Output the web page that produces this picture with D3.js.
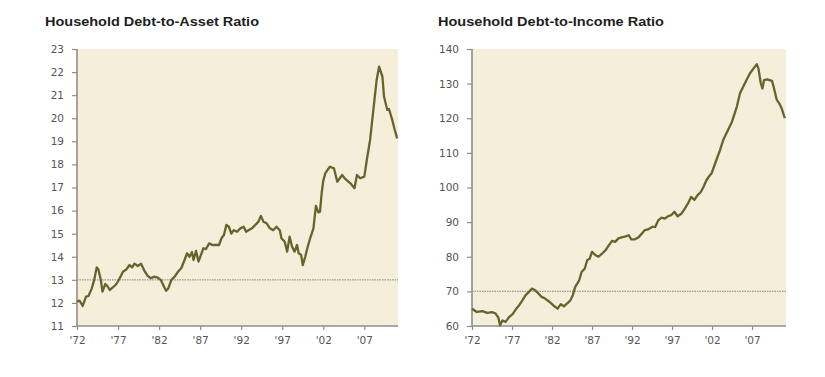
<!DOCTYPE html>
<html>
<head>
<meta charset="utf-8">
<script src="https://cdn.jsdelivr.net/npm/d3@7"></script>
<style>
  body { margin: 0; background: #fff; }
  svg { display: block; }
</style>
</head>
<body>
<div id="chart"></div>
<script>
const width = 825;
const height = 377;

// tick labels shared by both panels
const yearTicks = [1972, 1977, 1982, 1987, 1992, 1997, 2002, 2007];

// Household debt-to-asset ratio
const assetYears = [1972.0, 1972.3, 1972.7, 1973.1, 1973.4, 1973.8, 1974.1, 1974.4, 1974.6, 1974.9,
  1975.1, 1975.45, 1975.7, 1976.0, 1976.4, 1976.8, 1977.2, 1977.6, 1978.0, 1978.4,
  1978.7, 1979.0, 1979.4, 1979.8, 1980.2, 1980.6, 1981.0, 1981.4, 1981.8, 1982.2,
  1982.6, 1982.85, 1983.1, 1983.5, 1983.9, 1984.3, 1984.7, 1985.1, 1985.4, 1985.7,
  1986.0, 1986.2, 1986.5, 1986.8, 1987.1, 1987.4, 1987.7, 1988.1, 1988.5, 1988.9,
  1989.3, 1989.6, 1989.9, 1990.2, 1990.5, 1990.8, 1991.1, 1991.5, 1991.9, 1992.3,
  1992.6, 1992.9, 1993.3, 1993.7, 1994.1, 1994.4, 1994.7, 1995.1, 1995.5, 1995.9,
  1996.3, 1996.7, 1996.9, 1997.3, 1997.6, 1997.9, 1998.2, 1998.5, 1998.8, 1999.0,
  1999.3, 1999.5, 1999.8, 2000.1, 2000.4, 2000.8, 2001.1, 2001.4, 2001.6, 2001.8,
  2002.0, 2002.25, 2002.8, 2003.3, 2003.7, 2004.3, 2004.6, 2005.3, 2005.8, 2006.1,
  2006.5, 2007.0, 2007.3, 2007.7, 2008.1, 2008.5, 2008.8, 2009.2, 2009.4, 2009.8,
  2010.0, 2010.4, 2010.7, 2011.0];
const assetRatio = [12.05, 12.1, 11.87, 12.27, 12.3, 12.63, 13.0, 13.54, 13.45, 13.0,
  12.49, 12.82, 12.73, 12.56, 12.68, 12.82, 13.07, 13.35, 13.45, 13.64,
  13.54, 13.7, 13.6, 13.7, 13.4, 13.17, 13.07, 13.14, 13.1, 13.0,
  12.7, 12.53, 12.62, 13.0, 13.14, 13.35, 13.5, 13.86, 14.15, 14.0,
  14.2, 13.86, 14.25, 13.79, 14.08, 14.37, 14.33, 14.58, 14.51, 14.51,
  14.51, 14.8, 14.94, 15.38, 15.3, 15.0, 15.15, 15.08, 15.23, 15.3,
  15.08, 15.15, 15.23, 15.37, 15.52, 15.77, 15.52, 15.45, 15.23, 15.15,
  15.3, 15.15, 14.8, 14.65, 14.22, 14.87, 14.43, 14.22, 14.51, 14.15,
  14.08, 13.64, 14.0, 14.43, 14.8, 15.23, 16.2, 15.92, 15.95, 16.75,
  17.3, 17.62, 17.9, 17.83, 17.25, 17.54, 17.4, 17.18, 16.97, 17.54,
  17.4, 17.47, 18.19, 19.06, 20.36, 21.66, 22.24, 21.8, 20.93, 20.36,
  20.4, 19.93, 19.5, 19.13];

// Household debt-to-income ratio
const incomeYears = [1972.0, 1972.6, 1973.3, 1973.9, 1974.5, 1974.95, 1975.3, 1975.5, 1975.8, 1976.2,
  1976.6, 1977.1, 1977.5, 1977.9, 1978.3, 1978.7, 1979.1, 1979.5, 1979.9, 1980.3,
  1980.7, 1981.1, 1981.5, 1981.9, 1982.3, 1982.7, 1983.1, 1983.5, 1983.9, 1984.3,
  1984.6, 1984.9, 1985.4, 1985.7, 1986.1, 1986.4, 1986.7, 1987.0, 1987.4, 1987.8,
  1988.3, 1988.7, 1989.1, 1989.5, 1989.9, 1990.3, 1990.7, 1991.1, 1991.6, 1991.9,
  1992.3, 1992.8, 1993.2, 1993.6, 1994.0, 1994.5, 1994.9, 1995.3, 1995.7, 1996.1,
  1996.5, 1996.9, 1997.3, 1997.7, 1998.2, 1998.6, 1999.0, 1999.4, 1999.8, 2000.2,
  2000.6, 2000.95, 2001.3, 2001.6, 2001.95, 2002.4, 2003.0, 2003.4, 2004.0, 2004.5,
  2005.1, 2005.5, 2005.9, 2006.3, 2006.75, 2007.2, 2007.6, 2007.8, 2008.1, 2008.3,
  2008.5, 2008.9, 2009.5, 2009.7, 2010.1, 2010.4, 2010.7, 2011.1];
const incomeRatio = [65.0, 64.05, 64.3, 63.8, 64.0, 63.6, 62.4, 60.2, 61.6, 61.2,
  62.5, 63.5, 64.9, 66.0, 67.4, 68.9, 69.8, 70.8, 70.3, 69.4,
  68.4, 68.0, 67.3, 66.5, 65.7, 65.0, 66.3, 65.7, 66.5, 67.4,
  68.9, 71.3, 73.2, 75.6, 76.6, 79.0, 79.4, 81.4, 80.5, 80.0,
  81.0, 81.9, 83.3, 84.6, 84.3, 85.3, 85.6, 85.8, 86.2, 85.0,
  85.0, 85.6, 86.6, 87.7, 87.9, 88.6, 88.6, 90.6, 91.3, 91.0,
  91.7, 92.0, 93.0, 91.7, 92.5, 93.9, 95.4, 97.3, 96.4, 97.8,
  98.7, 100.2, 102.1, 103.1, 104.1, 107.0, 110.8, 113.7, 116.6, 119.0,
  123.3, 127.2, 129.1, 131.0, 133.0, 134.4, 135.6, 134.4, 130.1, 128.6,
  131.0, 131.2, 130.8, 129.1, 125.3, 124.3, 122.9, 120.0];

const svg = d3.select('#chart')
    .append('svg')
    .attr('width', width)
    .attr('height', height);

const panels = [
  {
    title: 'Household Debt-to-Asset Ratio',
    titleX: 45,
    titleWidth: 214,
    years: assetYears,
    values: assetRatio,
    x0: 77, x1: 398, y0: 49, y1: 326,
    xDomain: [1972, 2011.1],
    yDomain: [11, 23],
    yTicks: d3.range(11, 24, 1),
    refValue: 13
  },
  {
    title: 'Household Debt-to-Income Ratio',
    titleX: 438,
    titleWidth: 226,
    years: incomeYears,
    values: incomeRatio,
    x0: 472, x1: 786, y0: 49, y1: 326,
    xDomain: [1972, 2011.25],
    yDomain: [60, 140],
    yTicks: d3.range(60, 141, 10),
    refValue: 70
  }
];

panels.forEach(p => drawPanel(svg, p));

function drawPanel(svg, p) {
    const g = svg.append('g');

    const xScale = d3.scaleLinear()
        .domain(p.xDomain)
        .range([p.x0, p.x1]);

    const yScale = d3.scaleLinear()
        .domain(p.yDomain)
        .range([p.y1, p.y0]);

    // title
    g.append('text')
        .attr('x', p.titleX)
        .attr('y', 26)
        .attr('textLength', p.titleWidth)
        .attr('lengthAdjust', 'spacingAndGlyphs')
        .style('font-family', '"Liberation Sans", Arial, sans-serif')
        .style('font-weight', 'bold')
        .style('font-size', '13px')
        .style('fill', '#1e1e1e')
        .text(p.title);

    // plot background
    g.append('rect')
        .attr('x', p.x0)
        .attr('y', p.y0)
        .attr('width', p.x1 - p.x0)
        .attr('height', p.y1 - p.y0)
        .attr('fill', '#f4eedb');

    // reference line (dotted)
    g.append('line')
        .attr('x1', p.x0)
        .attr('x2', p.x1)
        .attr('y1', yScale(p.refValue))
        .attr('y2', yScale(p.refValue))
        .attr('stroke', '#9a9888')
        .attr('stroke-width', 1.2)
        .style('stroke-dasharray', '1.5,1');

    // y axis
    const yAxis = g.append('g')
        .attr('transform', `translate(${p.x0}, 0)`)
        .call(d3.axisLeft(yScale).tickValues(p.yTicks).tickSize(5).tickPadding(8).tickFormat(d3.format('d')));

    // x axis
    const xAxis = g.append('g')
        .attr('transform', `translate(0, ${p.y1})`)
        .call(d3.axisBottom(xScale)
            .tickValues(yearTicks)
            .tickSize(4)
            .tickPadding(7)
            .tickFormat(d => "'" + String(d).slice(2)));

    [yAxis, xAxis].forEach(a => {
        a.select('.domain').attr('stroke', '#8f8e86').attr('stroke-width', 1.6);
        a.selectAll('.tick line').attr('stroke', '#8f8e86').attr('stroke-width', 1.2);
        a.selectAll('.tick text')
            .style('font-family', '"DejaVu Sans", sans-serif')
            .style('font-size', '10.5px')
            .style('fill', '#555');
    });
    xAxis.select('.domain').attr('d', `M${p.x0},0H${p.x1}`);
    yAxis.select('.domain').attr('d', `M0,${p.y1}V${p.y0}`);

    // series line
    const points = p.years.map((yr, i) => ({ year: yr, value: p.values[i] }));
    g.append('path')
        .datum(points)
        .attr('fill', 'none')
        .attr('stroke', '#66642c')
        .attr('stroke-width', 2.3)
        .attr('stroke-linejoin', 'round')
        .attr('d', d3.line()
            .x(d => xScale(d.year))
            .y(d => yScale(d.value)));
}
</script>
</body>
</html>
